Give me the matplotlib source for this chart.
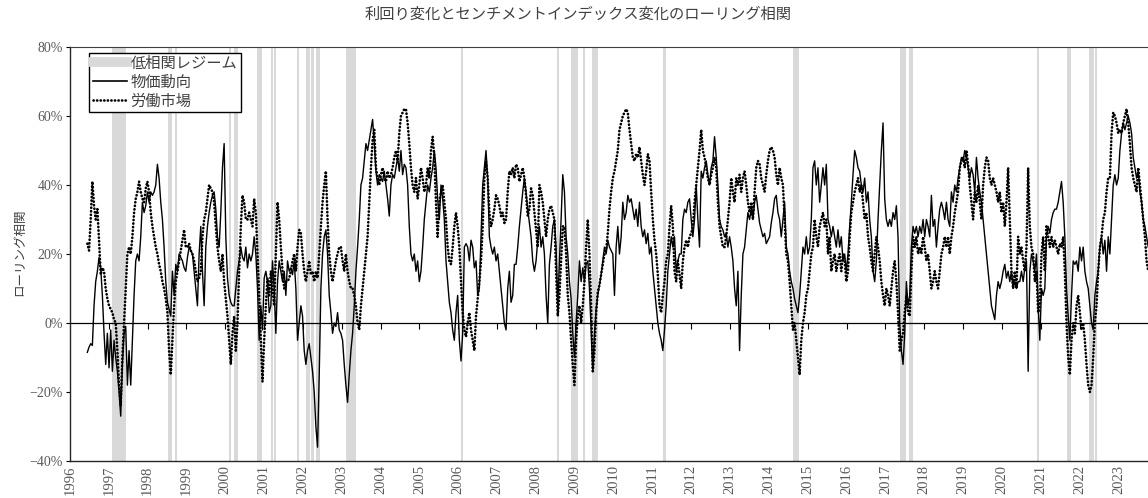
import numpy as np
import matplotlib
matplotlib.use('Agg')
import matplotlib.pyplot as plt
from matplotlib.lines import Line2D
from matplotlib.ticker import FuncFormatter

plt.rcParams['font.family'] = ['Liberation Serif', 'Noto Sans CJK JP']
plt.rcParams['axes.unicode_minus'] = True

# 系列（%）: 1996年6月から約半月ごとの観測値
start_year = 1996.447
step_year = 0.042955

# 物価動向
price = [
    -8.5, -7, -6, -6.5, 5, 12, 15, 19, 16, 8, -3, -12, -3, -13, -2, -14, -5, -10, -14, -20,
    -27, -12, -3, -1, -18, -8, -18, -5, 8, 18, 20, 18, 25, 35, 32, 34, 38, 35, 38, 37,
    38, 40, 46, 42, 35, 30, 22, 12, 6, 4, 2, 15, 8, 17, 15,
    20, 19, 18, 16, 15, 19, 22, 21, 20, 15, 10, 5, 20, 28, 15, 5, 22, 28, 32, 35,
    37, 38, 33, 25, 22, 32, 45, 52, 25, 13, 8, 6, 5, 5, 10, 15, 18, 22, 19, 18,
    22, 16, 20, 18, 20, 25, 20, 10, -5, 5, -2, 13, 15, 12, 3, 5, 18, 10, -3, 12,
    18, 15, 12, 15, 8, 18, 15, 16, 14, 18, 10, -5,
    0, 5, 2, -8, -12, -8, -6, -10, -14, -20, -30, -36, -15, 10, 20, 25, 27, 20, 8, 3,
    -3, 0, -1, 3, -2, -3, -5, -12, -18, -23, -15, -8, -3, 5, 15, 22, 30, 40, 42, 47,
    52, 50, 53, 56, 59, 52, 44, 40, 43, 42, 41, 44, 40, 36, 31, 40, 43, 42, 45, 48,
    44, 50, 43, 46, 45, 40, 28, 20, 18, 20, 15, 18,
    12, 15, 22, 30, 35, 40, 38, 42, 45, 50, 45, 36, 30, 40, 36, 30, 18, 12, 6, 3,
    -2, -5, 3, 8, -5, -11, -3, 22, 23, 22, 18, 24, 22, 16, 18, 8, 10, 25, 40, 45,
    50, 42, 25, 22, 20, 22, 18, 20, 15, 10, 5, 0, -2, 10, 15, 6, 8, 17, 17, 22,
    28, 33, 38, 42, 38, 33, 29, 25, 18, 15, 18, 24,
    28, 22, 25, 20, 8, 0, 17, 22, 28, 30, 22, 5, 18, 30, 43, 38, 25, 20, 12, 7,
    -3, -10, 0, 8, 18, 12, 16, 12, 17, 18, 10, -2, -14, -3, 4, 8, 11, 14, 18, 22,
    20, 24, 22, 21, 20, 8, 22, 28, 20, 25, 35, 30, 32, 37, 35, 36, 33, 30, 33, 28,
    35, 28, 25, 27, 23, 26, 20, 22, 15, 10, 5, 0,
    -3, -5, -8, -2, 5, 15, 20, 25, 22, 25, 15, 18, 20, 20, 30, 33, 32, 35, 36, 30,
    25, 30, 40, 30, 22, 44, 42, 45, 47, 43, 40, 45, 47, 54, 48, 40, 30, 28, 27, 25,
    26, 22, 25, 22, 18, 10, 5, 15, -8, 8, 20, 22, 27, 32, 30, 33, 30, 35, 37, 33,
    29, 27, 25, 26, 23, 24, 25, 29, 32, 36, 37, 32,
    30, 25, 30, 35, 22, 20, 15, 12, 10, 7, 5, 3, 8, 15, 22, 20, 25, 20, 22, 30,
    45, 47, 40, 45, 35, 40, 45, 40, 46, 30, 28, 25, 28, 25, 22, 27, 22, 25, 18, 20,
    15, 20, 28, 35, 43, 50, 48, 45, 44, 40, 38, 42, 35, 38, 30, 25, 15, 12, 18, 30,
    40, 50, 58, 36, 30, 28, 30, 28, 32, 30, 34, 25,
    0, -8, -12, -3, 12, 5, 8, 22, 28, 26, 28, 25, 28, 26, 30, 25, 30, 28, 25, 37,
    28, 30, 22, 28, 33, 35, 33, 30, 35, 30, 28, 38, 35, 40, 38, 42, 45, 48, 47, 50,
    48, 45, 42, 45, 43, 38, 48, 42, 38, 35, 30, 25, 20, 15, 10, 5, 3, 1, 8, 12,
    10, 12, 15, 17, 13, 15, 12, 15, 10, 12, 10, 12,
    12, 15, 12, 16, 18, -14, 15, 20, 18, 15, 20, 5, -5, 10, 8, 10, 25, 28, 26, 30,
    32, 33, 33, 35, 38, 41, 35, 25, 10, 2, -5, 8, 18, 17, 18, 15, 22, 18, 22, 15,
    12, 10, 5, 0, -2, 8, 12, 15, 22, 25, 20, 24, 15, 25, 20, 30, 40, 43, 40, 42,
    50, 55, 58, 56, 58, 60, 58, 55, 48, 45, 42, 44, 38, 35, 30, 28, 25, 22,
]

# 労働市場
labor = [
    23, 21, 30, 41, 34, 30, 33, 24, 14, 16, 15, 10, 7, 5, 4, 3, 1, 0, -8, -18,
    -24, -10, 0, 10, 20, 22, 20, 25, 32, 36, 38, 41, 38, 36, 35, 39, 41, 38, 32, 28,
    25, 22, 20, 17, 15, 12, 10, 7, 3, -8, -15, -5, 5, 12, 15,
    18, 21, 24, 27, 22, 22, 23, 21, 20, 18, 15, 12, 13, 15, 25, 30, 32, 36, 40, 39,
    38, 35, 28, 22, 18, 15, 20, 12, 7, 2, -5, -12, -3, 2, -8, 0, 15, 28, 37, 35,
    30, 30, 32, 30, 28, 36, 32, 20, 8, -5, -17, -5, 5, 13, 8, 15, 10, 5, 20, 35,
    30, 22, 15, 10, 12, 12, 13, 15, 18, 20, 15, 22,
    27, 26, 20, 15, 12, 15, 18, 14, 15, 12, 15, 13, 20, 28, 35, 40, 44, 30, 20, 15,
    12, 15, 18, 20, 22, 22, 18, 15, 20, 15, 12, 10, 10, 8, 5, 0, -2, 5, 10, 15,
    20, 25, 35, 45, 53, 56, 45, 42, 40, 43, 45, 42, 41, 44, 42, 43, 45, 48, 50, 47,
    55, 60, 61, 62, 62, 58, 52, 45, 40, 38, 42, 36,
    40, 45, 42, 38, 40, 45, 42, 50, 54, 48, 35, 25, 35, 38, 40, 35, 30, 22, 18, 17,
    22, 28, 32, 28, 22, 12, 3, -2, -4, 0, 3, -2, -5, -8, 2, 7, 12, 18, 28, 42,
    47, 42, 32, 28, 30, 33, 37, 36, 34, 31, 32, 29, 30, 38, 44, 43, 45, 42, 46, 45,
    41, 43, 45, 42, 37, 31, 33, 39, 37, 32, 27, 22,
    40, 38, 35, 30, 25, 30, 33, 34, 32, 30, 15, 2, 8, 18, 28, 28, 20, 8, 3, -5,
    -12, -18, -5, 2, 5, 0, 5, 12, 22, 30, 20, 5, -14, -8, 3, 9, 11, 14, 17, 20,
    21, 26, 33, 38, 42, 44, 47, 50, 56, 58, 60, 61, 62, 61, 56, 52, 48, 47, 49, 48,
    51, 47, 43, 40, 44, 49, 47, 38, 30, 24, 20, 14,
    5, 3, 8, 12, 18, 20, 28, 34, 28, 15, 12, 18, 14, 10, 18, 22, 24, 22, 25, 26,
    28, 35, 40, 45, 50, 56, 50, 48, 45, 42, 40, 43, 45, 48, 45, 35, 28, 25, 22, 22,
    25, 30, 35, 42, 38, 35, 42, 40, 43, 38, 42, 44, 40, 35, 32, 35, 30, 38, 45, 47,
    46, 42, 40, 38, 43, 47, 50, 51, 50, 48, 43, 40,
    45, 42, 40, 30, 20, 18, 12, 5, -2, 0, -5, -10, -15, -5, 0, 3, 8, 10, 15, 20,
    22, 30, 25, 22, 28, 30, 32, 28, 30, 20, 25, 15, 18, 20, 15, 18, 20, 15, 20, 18,
    12, 15, 25, 32, 35, 38, 40, 42, 38, 40, 35, 30, 32, 25, 22, 18, 15, 20, 25, 22,
    18, 12, 8, 5, 10, 8, 5, 10, 15, 18, 12, 3,
    -8, -5, -3, 3, 8, 3, 2, 15, 25, 22, 25, 20, 22, 20, 25, 22, 18, 20, 15, 10,
    12, 15, 12, 10, 15, 20, 22, 25, 22, 25, 20, 25, 28, 32, 35, 38, 45, 47, 48, 45,
    50, 46, 40, 35, 30, 38, 35, 40, 35, 30, 40, 45, 48, 47, 42, 40, 42, 40, 38, 35,
    38, 32, 35, 28, 35, 45, 30, 15, 10, 15, 10, 25,
    20, 22, 18, 15, 22, 45, 28, 22, 20, 12, 15, 3, 5, 20, 25, 15, 28, 25, 22, 25,
    22, 24, 22, 20, 23, 22, 25, 15, 0, -10, -15, -5, 0, -3, 5, 8, 3, -2, 0, -5,
    -12, -18, -20, -18, -10, 0, 5, 15, 22, 25, 30, 32, 38, 42, 42, 55, 61, 60, 58, 55,
    56, 55, 58, 60, 62, 58, 52, 45, 42, 40, 38, 45, 40, 35, 30, 25, 18, 15,
]

# 低相関レジーム期間（年, 小数）
regime_start = [1997.08, 1998.53, 1998.71, 2000.10, 2000.23, 2000.82, 2001.18, 2001.26,
                2001.85, 2002.08, 2002.21, 2002.34, 2003.11, 2006.08, 2008.54, 2008.91,
                2009.20, 2009.43, 2011.26, 2014.61, 2017.37, 2017.60, 2020.90, 2021.67,
                2022.24, 2022.39]
regime_end = [1997.44, 1998.63, 1998.76, 2000.15, 2000.33, 2000.95, 2001.23, 2001.31,
              2001.90, 2002.19, 2002.29, 2002.45, 2003.37, 2006.12, 2008.58, 2009.07,
              2009.25, 2009.59, 2011.36, 2014.76, 2017.52, 2017.70, 2020.95, 2021.77,
              2022.37, 2022.44]

years = start_year + step_year * np.arange(len(price))

W, H = 1148, 498
fig = plt.figure(figsize=(W / 100, H / 100), dpi=100)
ax = fig.add_axes([70 / W, 37 / H, 1 - 70 / W, 414 / H])

band_color = '#d9d9d9'
for s, e in zip(regime_start, regime_end):
    ax.axvspan(s, e, color=band_color, lw=0, zorder=0)

ax.plot(years, price, color='black', lw=1.0, zorder=3)
ax.plot(years, labor, color='black', lw=1.9, linestyle=(0, (0.1, 1.25)),
        dash_capstyle='round', zorder=4)

ax.set_xlim(1996, 2023.76)
ax.set_ylim(-40, 80)
ax.set_yticks(range(-40, 81, 20))
ax.yaxis.set_major_formatter(FuncFormatter(lambda v, p: f'{v:.0f}%'.replace('-', '\u2212')))
ax.set_xticks(range(1996, 2024))
ax.set_xticklabels([str(y) for y in range(1996, 2024)], rotation=90)
ax.tick_params(axis='x', length=0, pad=3, labelsize=10.5, labelcolor='#595959')
ax.tick_params(axis='y', direction='out', length=3, width=0.8, pad=2,
               labelsize=10, labelcolor='#595959')

for side in ['left', 'bottom']:
    ax.spines[side].set_color('#262626')
    ax.spines[side].set_linewidth(1.0)
ax.spines['top'].set_color('#404040')
ax.spines['right'].set_visible(False)

# ゼロ線と年目盛り
zero_axis = ax.secondary_xaxis(40 / 120)
zero_axis.set_xticks(range(1997, 2024))
zero_axis.tick_params(direction='out', length=4, width=0.8, labelbottom=False, labeltop=False)
zero_axis.spines['bottom'].set_color('black')
zero_axis.spines['bottom'].set_linewidth(0.9)

handles = [
    Line2D([], [], color=band_color, lw=7),
    Line2D([], [], color='black', lw=1.2),
    Line2D([], [], color='black', lw=1.9, linestyle=(0, (0.1, 1.25)), dash_capstyle='round'),
]
leg = ax.legend(handles, ['低相関レジーム', '物価動向', '労働市場'], loc='upper left',
                bbox_to_anchor=(0.018, 0.986), fontsize=11, frameon=True, fancybox=False,
                framealpha=1, edgecolor='black', handlelength=2.2, handletextpad=0.25,
                borderpad=0.25, labelspacing=0.3, borderaxespad=0)
leg.get_frame().set_linewidth(1.0)
for t in leg.get_texts():
    t.set_color('#404040')

fig.text(0.504, 0.971, '利回り変化とセンチメントインデックス変化のローリング相関',
         ha='center', va='center', fontsize=11, color='#404040')
fig.text(20 / W, 1 - 252 / H, 'ローリング相関', ha='center', va='center',
         rotation=90, fontsize=9, color='#404040')

fig.savefig('out.png', dpi=100)
